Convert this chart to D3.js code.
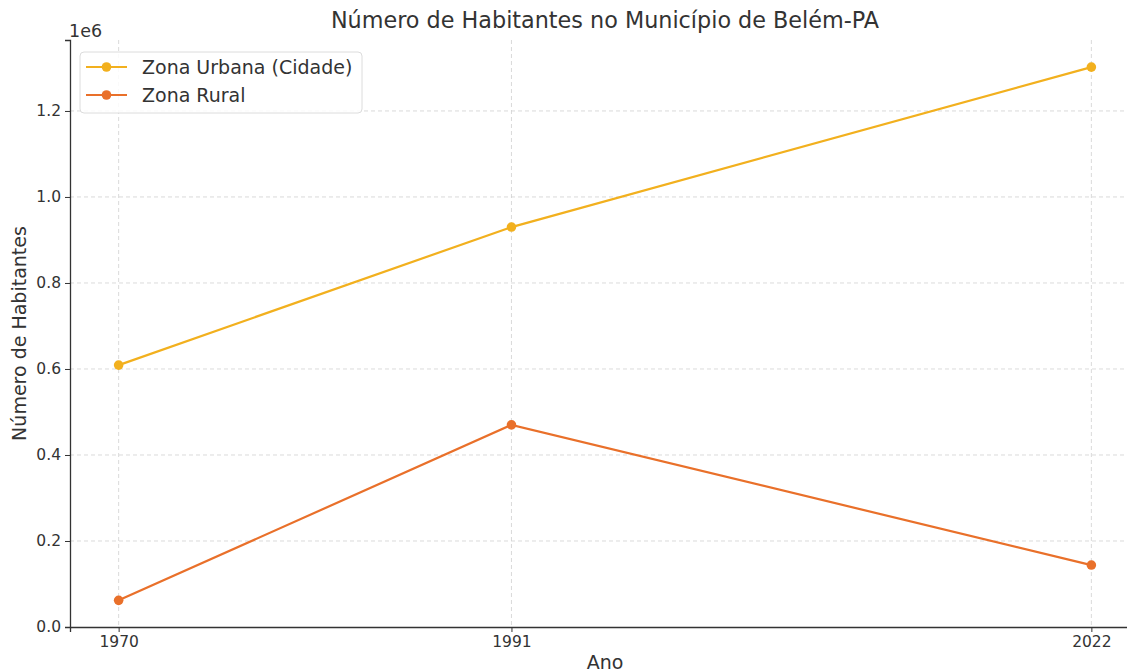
<!DOCTYPE html>
<html>
<head>
<meta charset="utf-8">
<script src="https://cdn.jsdelivr.net/npm/d3@7"></script>
<style>
  body { margin: 0; background: #fff; }
  svg { font-family: "DejaVu Sans", sans-serif; }
  .grid line { stroke: #d0d0d0; stroke-dasharray: 4 3; stroke-width: 0.8; }
  .axis path, .axis line { stroke: #333; }
</style>
</head>
<body>
<svg id="chart" width="1127" height="672"></svg>
<script>
// Dados do gráfico
const anos = [1970, 1991, 2022];
const urbana = [609000, 930000, 1302000];
const rural = [62000, 470000, 144000];
const yTicks = [0, 200000, 400000, 600000, 800000, 1000000, 1200000];
const series = [
  { nome: 'Zona Urbana (Cidade)', valores: urbana, cor: '#f2b01e' },
  { nome: 'Zona Rural', valores: rural, cor: '#e9702a' }
];

const svg = d3.select('#chart');
const mLeft = 70, mRight = 1140, mTop = 40, mBottom = 627;
const FONT = '"DejaVu Sans", sans-serif';

const x = d3.scaleLinear().domain([1967.4, 2024.6]).range([mLeft, mRight]);
const y = d3.scaleLinear().domain([0, 1365000]).range([mBottom, mTop]);

// grade
svg.append('g').attr('class', 'grid')
  .selectAll('line').data(yTicks.slice(1)).join('line')
  .attr('x1', mLeft).attr('x2', mRight)
  .attr('y1', d => y(d)).attr('y2', d => y(d));
svg.append('g').attr('class', 'grid')
  .selectAll('line').data(anos).join('line')
  .attr('x1', d => x(d)).attr('x2', d => x(d))
  .attr('y1', mTop).attr('y2', mBottom);

// eixos
const xAxis = svg.append('g').attr('class', 'axis')
  .attr('transform', `translate(0,${mBottom})`)
  .call(d3.axisBottom(x).tickValues(anos).tickFormat(d3.format('d')).tickSizeOuter(0).tickSize(5).tickPadding(4));
const yAxis = svg.append('g').attr('class', 'axis')
  .attr('transform', `translate(${mLeft},0)`)
  .call(d3.axisLeft(y).tickValues(yTicks).tickFormat(d => (d / 1e6).toFixed(1)).tickSizeOuter(0).tickSize(5).tickPadding(4));
[xAxis, yAxis].forEach(a => {
  a.attr('font-family', FONT).attr('font-size', 15.5);
  a.select('.domain').attr('stroke-width', 1.3);
  a.selectAll('text').attr('fill', '#333');
});

svg.append('text').attr('x', mLeft - 1).attr('y', 37)
  .attr('font-size', 17.5).attr('fill', '#333').text('1e6');

// linhas e pontos
const line = d3.line().x((d, i) => x(anos[i])).y(d => y(d));
series.forEach(s => {
  svg.append('path').datum(s.valores)
    .attr('d', line).attr('fill', 'none')
    .attr('stroke', s.cor).attr('stroke-width', 2.2);
  svg.append('g').selectAll('circle').data(s.valores).join('circle')
    .attr('cx', (d, i) => x(anos[i])).attr('cy', d => y(d))
    .attr('r', 4.8).attr('fill', s.cor);
});

// títulos
svg.append('text').attr('x', (mLeft + mRight) / 2).attr('y', 28)
  .attr('text-anchor', 'middle').attr('font-size', 22.3).attr('fill', '#333')
  .text('Número de Habitantes no Município de Belém-PA');
svg.append('text').attr('x', (mLeft + mRight) / 2).attr('y', 669)
  .attr('text-anchor', 'middle').attr('font-size', 19).attr('fill', '#333')
  .text('Ano');
svg.append('text').attr('transform', `translate(26,${(mTop + mBottom) / 2}) rotate(-90)`)
  .attr('text-anchor', 'middle').attr('font-size', 19).attr('fill', '#333')
  .text('Número de Habitantes');

// legenda
const leg = svg.append('g').attr('transform', 'translate(80,52)');
leg.append('rect').attr('width', 282).attr('height', 61).attr('rx', 4)
  .attr('fill', '#fff').attr('fill-opacity', 0.85).attr('stroke', '#dcdcdc');
series.forEach((s, i) => {
  const g = leg.append('g').attr('transform', `translate(0,${15 + i * 28})`);
  g.append('line').attr('x1', 6).attr('x2', 47).attr('stroke', s.cor).attr('stroke-width', 2.2);
  g.append('circle').attr('cx', 26.5).attr('r', 4.8).attr('fill', s.cor);
  g.append('text').attr('x', 62).attr('y', 7).attr('font-size', 19).attr('fill', '#333').text(s.nome);
});
</script>
</body>
</html>
